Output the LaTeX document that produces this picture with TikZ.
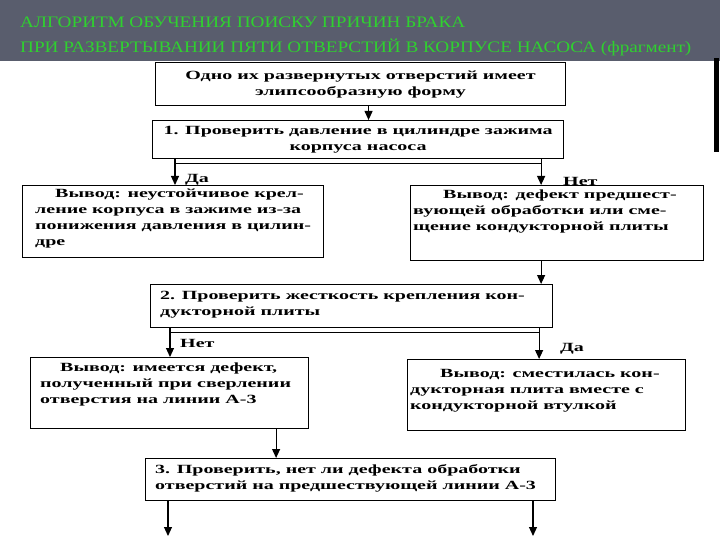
\documentclass[tikz,border=0pt]{standalone}
\usepackage{fontspec}
\setmainfont{Liberation Serif}
\newfontfamily\hdrfont{Liberation Serif}[FakeStretch=1.2]
\newfontfamily\boxfont{Liberation Serif}[FakeStretch=1.6]
\usetikzlibrary{arrows.meta}
\definecolor{hdrbg}{HTML}{595D6D}
\definecolor{hdrgreen}{HTML}{2FD12F}
\begin{document}
\begin{tikzpicture}[x=1pt,y=-1pt,
  box/.style={draw, line width=1.1pt, inner sep=0pt, anchor=north west},
  txt/.style={font=\boxfont\bfseries\fontsize{12.5}{16}\selectfont, inner sep=0pt, align=left, anchor=west},
  ctxt/.style={font=\boxfont\bfseries\fontsize{12.5}{16}\selectfont, inner sep=0pt, align=center},
  lbl/.style={font=\boxfont\bfseries\fontsize{12.5}{14}\selectfont, inner sep=0pt, anchor=base west},
  hdr/.style={font=\hdrfont\fontsize{16}{18}\selectfont, text=hdrgreen, inner sep=0pt, anchor=base west},
  arr/.style={line width=1.1pt, -{Triangle[width=8pt,length=9pt]}},
  ln/.style={line width=1.1pt}]
\useasboundingbox (0,0) rectangle (720,540);
\fill[hdrbg] (0,0) rectangle (720,61);
\node[hdr] (h1) at (20,28) {АЛГОРИТМ ОБУЧЕНИЯ ПОИСКУ ПРИЧИН БРАКА};
\node[hdr] (h2) at (20,53) {ПРИ РАЗВЕРТЫВАНИИ ПЯТИ ОТВЕРСТИЙ В КОРПУСЕ НАСОСА (фрагмент)};
\fill (714,58) rectangle (719,152);
% boxes
\node[box, minimum width=410pt, minimum height=43pt] (b0) at (155,62) {};
\node[box, minimum width=411pt, minimum height=38pt] (b1) at (152,120) {};
\node[box, minimum width=301pt, minimum height=72pt] (b2l) at (22,185) {};
\node[box, minimum width=293pt, minimum height=75pt] (b2r) at (410,185) {};
\node[box, minimum width=402pt, minimum height=43pt] (b3) at (150,284) {};
\node[box, minimum width=278pt, minimum height=71pt] (b4l) at (30,357) {};
\node[box, minimum width=278pt, minimum height=71pt] (b4r) at (407,359) {};
\node[box, minimum width=410pt, minimum height=42pt] (b5) at (145,458) {};
% texts
\node[ctxt] (t0) at (b0.center) {Одно их развернутых отверстий имеет\\элипсообразную форму};
\node[ctxt] (t1) at (b1.center) {1. Проверить давление в цилиндре зажима\\корпуса насоса};
\node[txt] (t2l) at (35,219) {\hspace*{20pt}Вывод: неустойчивое крел-\\ление корпуса в зажиме из-за\\понижения давления в цилин-\\дре};
\node[txt] (t2r) at (413,212) {\hspace*{30pt}Вывод: дефект предшест-\\вующей обработки или сме-\\щение кондукторной плиты};
\node[txt] (t3) at (160,305) {2. Проверить жесткость крепления кон-\\дукторной плиты};
\node[txt] (t4l) at (40,384) {\hspace*{20pt}Вывод: имеется дефект,\\полученный при сверлении\\отверстия на линии А-3};
\node[txt] (t4r) at (410,391) {\hspace*{30pt}Вывод: сместилась кон-\\дукторная плита вместе с\\кондукторной втулкой};
\node[txt] (t5) at (155,478) {3. Проверить, нет ли дефекта обработки\\отверстий на предшествующей линии А-3};
% labels
\node[lbl] (l1) at (185,183) {Да};
\node[lbl] (l2) at (563,186) {Нет};
\node[lbl] (l3) at (180,347) {Нет};
\node[lbl] (l4) at (560,351) {Да};
% connectors
\draw[arr] ([xshift=8pt]b0.south) -- ([xshift=8pt]b0.south |- b1.north);
\coordinate (f1l) at ([xshift=23pt,yshift=-4pt]b1.south west);
\coordinate (f1r) at ([xshift=-23pt,yshift=-4pt]b1.south east);
\draw[ln] (f1l) -- (f1r);
\draw[arr] (f1l |- b1.south) -- (f1l |- b2l.north);
\draw[arr] (f1r |- b1.south) -- (f1r |- b2r.north);
\draw[arr] (f1r |- b2r.south) -- (f1r |- b3.north);
\coordinate (f3l) at ([xshift=20pt,yshift=-4pt]b3.south west);
\coordinate (f3r) at ([xshift=-14pt,yshift=-4pt]b3.south east);
\draw[ln] (f3l) -- (f3r);
\draw[arr] (f3l |- b3.south) -- (f3l |- b4l.north);
\draw[arr] (f3r |- b3.south) -- (f3r |- b4r.north);
\coordinate (f4) at ([xshift=-33pt]b4l.south east);
\draw[arr] (f4) -- (f4 |- b5.north);
\coordinate (e1) at (168,536);
\coordinate (e2) at (533,536);
\draw[arr] (e1 |- b5.south) -- (e1);
\draw[arr] (e2 |- b5.south) -- (e2);
\end{tikzpicture}
\end{document}
